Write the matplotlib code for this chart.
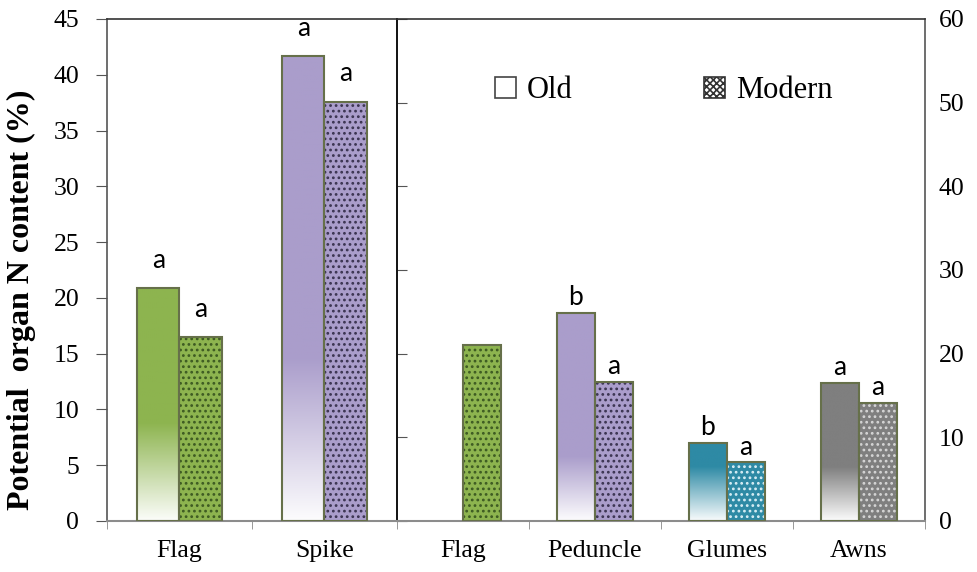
import numpy as np
import matplotlib
matplotlib.use('Agg')
import matplotlib.pyplot as plt
from matplotlib.patches import Patch
from matplotlib.colors import to_rgb

# left panel, read on the left axis (0-45)
left_organs = ['Flag', 'Spike']
left_old = [20.9, 41.7]
left_modern = [16.5, 37.6]
left_old_sig = ['a', 'a']
left_modern_sig = ['a', 'a']

# right panel, read on the right axis (0-60)
right_organs = ['Flag', 'Peduncle', 'Glumes', 'Awns']
right_old = [None, 24.9, 9.3, 16.5]
right_modern = [21.0, 16.6, 7.0, 14.1]
right_old_sig = [None, 'b', 'b', 'a']
right_modern_sig = [None, 'a', 'a', 'a']

# colours per organ
fill = {'Flag': '#8db44f', 'Spike': '#aa9dcb', 'Peduncle': '#aa9dcb',
        'Glumes': '#2e8aa5', 'Awns': '#7f7f7f'}
dots = {'Flag': '#3d5a22', 'Spike': '#3a3350', 'Peduncle': '#3a3350',
        'Glumes': '#d8eef5', 'Awns': '#d6d6d6'}
# share of the bar height that fades to white
fade = {'Flag': 0.42, 'Spike': 0.35, 'Peduncle': 0.31, 'Glumes': 0.7, 'Awns': 0.39}
EDGE = '#66704a'
W = 0.29

serif = 'Liberation Serif'
sans = 'Lato'


def old_bar(ax, x, h, organ):
    n = 256
    t = np.linspace(0, 1, n)[:, None]
    k = np.clip(t / fade[organ], 0, 1)
    k = 0.03 + 0.97 * k
    rgb = np.array(to_rgb(fill[organ]))
    img = (1 - k)[..., None] + k[..., None] * rgb
    ax.imshow(img, extent=(x - W / 2, x + W / 2, 0, h), origin='lower',
              aspect='auto', interpolation='bilinear', zorder=2)
    ax.bar(x, h, W, color='none', edgecolor=EDGE, linewidth=1.5, zorder=3)


def modern_bar(ax, x, h, organ):
    ax.bar(x, h, W, color=fill[organ], edgecolor=dots[organ], hatch='...',
           linewidth=0, zorder=2)
    ax.bar(x, h, W, color='none', edgecolor=EDGE, linewidth=1.5, zorder=3)


def sig(ax, x, h, s, off):
    if s:
        ax.annotate(s, (x, h), xytext=(0, off), textcoords='offset points',
                    ha='center', va='bottom', fontsize=19, family=sans)


plt.rcParams['hatch.linewidth'] = 1.2

fig = plt.figure(figsize=(9.77, 5.72), dpi=100)
ax1 = fig.add_axes([0.1095, 0.0892, 0.2968, 0.8776])
ax2 = fig.add_axes([0.4063, 0.0892, 0.5405, 0.8776])

# left panel
for i, organ in enumerate(left_organs):
    old_bar(ax1, i - W / 2, left_old[i], organ)
    modern_bar(ax1, i + W / 2, left_modern[i], organ)
    sig(ax1, i - W / 2, left_old[i], left_old_sig[i], 11)
    sig(ax1, i + W / 2, left_modern[i], left_modern_sig[i], 11)

ax1.set_xlim(-0.5, 1.5)
ax1.set_ylim(0, 45)
ax1.set_yticks(np.arange(0, 46, 5))
ax1.set_xticks(range(len(left_organs)))
ax1.set_xticklabels(left_organs)
ax1.set_xticks([-0.5, 0.5, 1.5], minor=True)

# right panel
for i, organ in enumerate(right_organs):
    if right_old[i] is not None:
        old_bar(ax2, i - W / 2, right_old[i], organ)
        sig(ax2, i - W / 2, right_old[i], right_old_sig[i], 2)
    modern_bar(ax2, i + W / 2, right_modern[i], organ)
    sig(ax2, i + W / 2, right_modern[i], right_modern_sig[i], 2)

ax2.set_xlim(-0.5, 3.5)
ax2.set_ylim(0, 60)
ax2.set_yticks(np.arange(0, 61, 10))
ax2.set_xticks(range(len(right_organs)))
ax2.set_xticklabels(right_organs)
ax2.set_xticks([0.5, 1.5, 2.5, 3.5], minor=True)

for ax in (ax1, ax2):
    ax.tick_params(axis='x', which='major', length=0, pad=14, labelsize=18.5)
    ax.tick_params(axis='x', which='minor', length=6, color='#888888', direction='out')
    for lab in ax.get_xticklabels():
        lab.set_family(serif)
    ax.spines['bottom'].set_color('#8c8c8c')
    ax.spines['bottom'].set_linewidth(1.5)
    ax.spines['top'].set_color('#333333')
    ax.spines['top'].set_linewidth(1.2)

ax1.spines['right'].set_visible(False)
ax1.spines['left'].set_color('#555555')
ax1.spines['left'].set_linewidth(1.2)
ax1.tick_params(axis='y', length=8, color='#555555', pad=12, labelsize=18.5)

ax2.spines['left'].set_color('#111111')
ax2.spines['left'].set_linewidth(1.4)
ax2.spines['right'].set_color('#555555')
ax2.spines['right'].set_linewidth(1.2)
ax2.tick_params(axis='y', left=True, right=False, labelleft=False, labelright=True,
                direction='in', length=7, color='#555555', pad=10, labelsize=18.5)

for lab in ax1.get_yticklabels() + ax2.get_yticklabels():
    lab.set_family(serif)

ax1.set_ylabel('Potential  organ N content (%)', family=serif, fontweight='bold',
               fontsize=23)
ax1.yaxis.set_label_coords(-0.245, 0.44)

handles = [Patch(facecolor='white', edgecolor='#444444', linewidth=1.2, label='Old'),
           Patch(facecolor='white', edgecolor='#333333', hatch='xxxxx', linewidth=1.2,
                 label='Modern')]
ax2.legend(handles=handles, loc='center left', bbox_to_anchor=(0.185, 0.857), ncol=2,
           frameon=False, prop={'family': serif, 'size': 22}, handlelength=0.7,
           handleheight=0.7, handletextpad=0.35, columnspacing=4.3, borderpad=0,
           borderaxespad=0)

fig.savefig('out.png', dpi=100)
